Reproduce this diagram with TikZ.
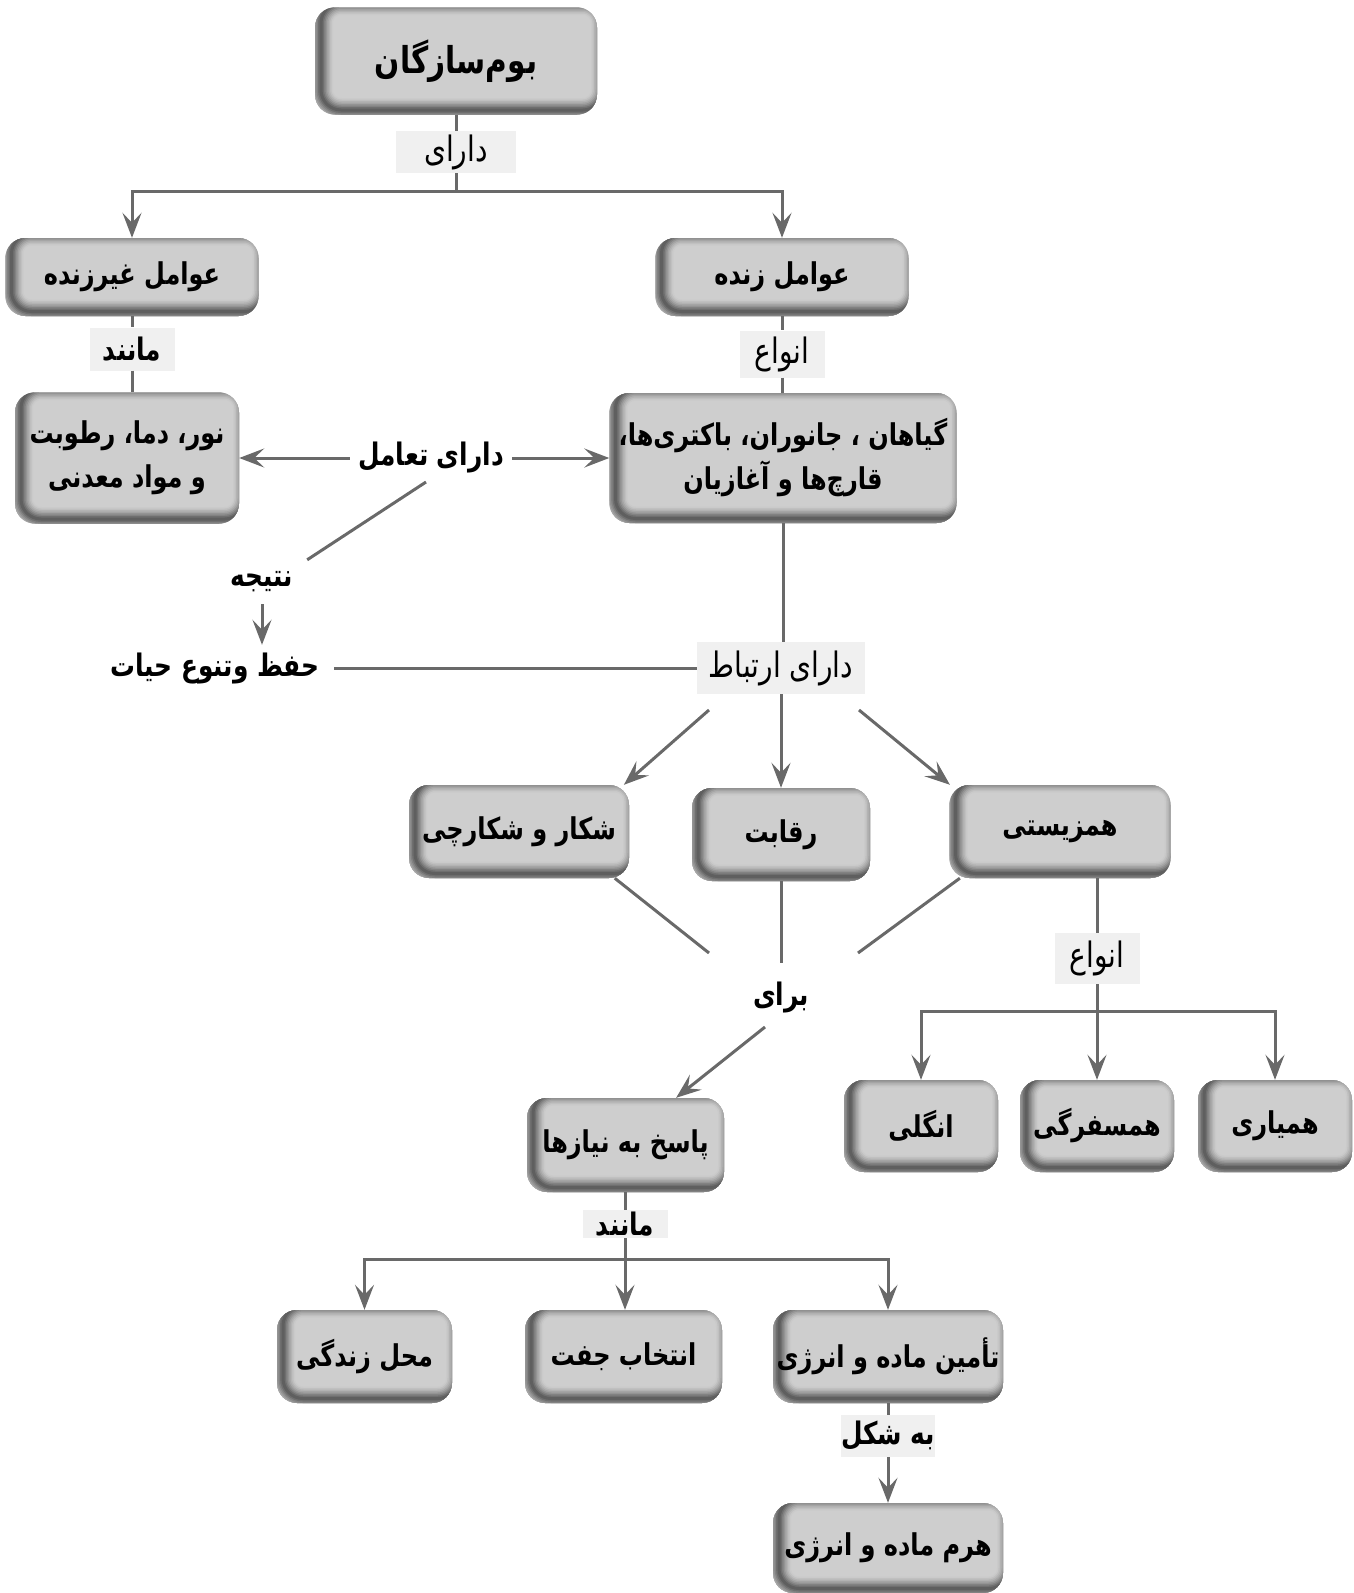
\documentclass[tikz,border=0pt]{standalone}
\usepackage{fontspec}
\TeXXeTstate=1
\newfontfamily\ar[Script=Arabic,FakeStretch=0.8]{DejaVu Sans}
\usetikzlibrary{arrows.meta}
\definecolor{boxfill}{RGB}{206,206,206}
\definecolor{labbg}{RGB}{240,240,240}
\definecolor{lc}{RGB}{105,105,105}
\newcommand{\fa}[1]{\beginR#1\endR}
\begin{document}
\begin{tikzpicture}[x=1pt,y=-1pt,
  >={Stealth[length=25pt,width=19pt,inset=10pt]},
  gbox/.style={rounded corners=20pt, fill=boxfill,
    inner sep=0pt, align=center,
    font=\ar\bfseries\fontsize{30}{44}\selectfont,
    path picture={
      \foreach \w/\p in {24/98,21/93,18/87,15/80,12/72,9/63,6/54,3/46}{
        \draw[line width=\w pt, draw=boxfill!\p!black, rounded corners=20pt]
          ([xshift=6pt,yshift=4.5pt]path picture bounding box.south west) rectangle
          ([xshift=6pt,yshift=4.5pt]path picture bounding box.north east);
      }
    }},
  lbl/.style={fill=labbg, inner sep=0pt, font=\ar\fontsize{35}{38}\selectfont},
  lblb/.style={lbl, font=\ar\bfseries\fontsize{31}{36}\selectfont},
  plain/.style={inner sep=0pt, font=\ar\bfseries\fontsize{31}{36}\selectfont},
  conn/.style={draw=lc, line width=3pt}]
\useasboundingbox (0,0) rectangle (1354,1593);
% nodes
\node[gbox, minimum width=282, minimum height=107, font=\ar\bfseries\fontsize{37}{40}\selectfont] (root) at (456,61) {\fa{بوم‌سازگان}};
\node[lbl, minimum width=120, minimum height=42] (l1) at (456,152) {\fa{دارای}};
\coordinate (j1) at (456,191);
\node[gbox, minimum width=253, minimum height=78] (abio) at (132,277) {\fa{عوامل غیرزنده}};
\node[gbox, minimum width=253, minimum height=78] (bio) at (782,277) {\fa{عوامل زنده}};
\node[lblb, minimum width=85, minimum height=43] (l2) at (132,349) {\fa{مانند}};
\node[lbl, minimum width=85, minimum height=47] (l3) at (782,354) {\fa{انواع}};
\node[gbox, minimum width=224, minimum height=131] (light) at (127,458) {\fa{نور، دما، رطوبت}\\\fa{و مواد معدنی}};
\node[gbox, minimum width=347, minimum height=130] (org) at (783,458) {\fa{گیاهان ، جانوران، باکتری‌ها،}\\\fa{قارچ‌ها و آغازیان}};
\node[plain, minimum width=162, minimum height=40] (inter) at (431,458) {\fa{دارای تعامل}};
\coordinate (t1) at (426,482);
\node[plain, minimum width=90, minimum height=44] (result) at (262,582) {\fa{نتیجه}};
\node[plain, minimum width=238, minimum height=46] (life) at (215,668) {\fa{حفظ وتنوع حیات}};
\node[lbl, minimum width=168, minimum height=52] (rel) at (781,668) {\fa{دارای ارتباط}};
\coordinate (r1) at (709,710);
\coordinate (r3) at (859,710);
\node[gbox, minimum width=220, minimum height=93] (hunt) at (519,831.5) {\fa{شکار و شکارچی}};
\node[gbox, minimum width=178, minimum height=93] (comp) at (781,834.5) {\fa{رقابت}};
\node[gbox, minimum width=221, minimum height=93] (sym) at (1060,831.5) {\fa{همزیستی}};
\node[plain, minimum width=60, minimum height=68] (for) at (781,997) {\fa{برای}};
\coordinate (b1) at (709,953);
\coordinate (b3) at (858,953);
\coordinate (b4) at (765,1027);
\node[gbox, minimum width=197, minimum height=94] (needs) at (625.5,1145) {\fa{پاسخ به نیازها}};
\node[lblb, minimum width=85, minimum height=28] (l5) at (625,1224) {\fa{مانند}};
\coordinate (j3) at (625,1259);
\node[gbox, minimum width=175, minimum height=93] (habitat) at (364.5,1356.5) {\fa{محل زندگی}};
\node[gbox, minimum width=197, minimum height=93] (mate) at (623.5,1356.5) {\fa{انتخاب جفت}};
\node[gbox, minimum width=230, minimum height=93] (supply) at (888,1356.5) {\fa{تأمین ماده و انرژی}};
\node[lblb, minimum width=85, minimum height=42] (l6) at (888,1436) {\fa{به شکل}};
\node[gbox, minimum width=230, minimum height=90] (pyr) at (888,1548) {\fa{هرم ماده و انرژی}};
\node[lbl, minimum width=85, minimum height=51] (l4) at (1097,958.5) {\fa{انواع}};
\coordinate (j4) at (1097,1011);
\node[gbox, minimum width=154, minimum height=92] (parasite) at (921,1126) {\fa{انگلی}};
\node[gbox, minimum width=154, minimum height=92] (comm) at (1097,1126) {\fa{همسفرگی}};
\node[gbox, minimum width=154, minimum height=92] (mutual) at (1275,1126) {\fa{همیاری}};
% connectors
\draw[conn] (root.south) -- (l1.north);
\draw[conn] (l1.south) -- (j1);
\draw[conn,->] (j1) -| (abio.north);
\draw[conn,->] (j1) -| (bio.north);
\draw[conn] (abio.south) -- (l2.north);
\draw[conn] (l2.south) -- (l2.south |- light.north);
\draw[conn] (bio.south) -- (l3.north);
\draw[conn] (l3.south) -- (l3.south |- org.north);
\draw[conn,->] (inter.west) -- (light.east);
\draw[conn,->] (inter.east) -- (org.west);
\draw[conn] (t1) -- (result.north east);
\draw[conn,->] (result.south) -- (result.south |- life.north);
\draw[conn] (life.east) -- (life.east -| rel.west);
\draw[conn] (org.south) -- (org.south |- rel.north);
\draw[conn,->] (r1) -- (hunt.24);
\draw[conn,->] (rel.south) -- (rel.south |- comp.north);
\draw[conn,->] (r3) -- (sym.157);
\draw[conn] (hunt.-26.5) -- (b1);
\draw[conn] (comp.south) -- (comp.south |- for.north);
\draw[conn] (sym.205) -- (b3);
\draw[conn,->] (b4) -- (needs.43);
\draw[conn] (needs.south -| l5.north) -- (l5.north);
\draw[conn] (l5.south) -- (j3);
\draw[conn,->] (j3) -| (habitat.north);
\draw[conn,->] (j3) -- (j3 |- mate.north);
\draw[conn,->] (j3) -| (supply.north);
\draw[conn] (supply.south) -- (l6.north);
\draw[conn,->] (l6.south) -- (pyr.north);
\draw[conn] (l4.north |- sym.south) -- (l4.north);
\draw[conn] (l4.south) -- (j4);
\draw[conn,->] (j4) -| (parasite.north);
\draw[conn,->] (j4) -- (comm.north);
\draw[conn,->] (j4) -| (mutual.north);
\end{tikzpicture}
\end{document}
